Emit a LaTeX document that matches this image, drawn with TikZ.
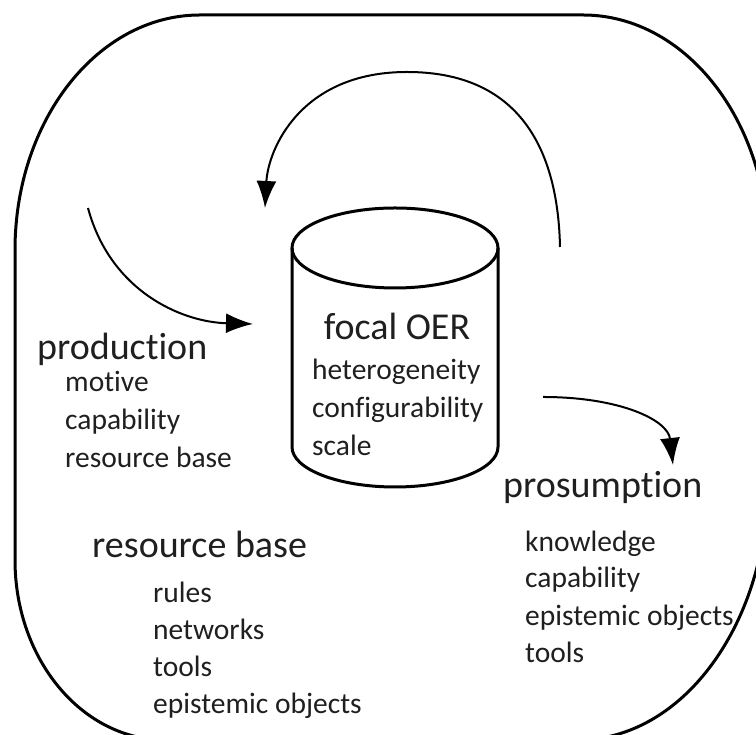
\documentclass[tikz,border=0pt]{standalone}
\usepackage{fontspec}
\setmainfont{Carlito}[Ligatures={NoCommon,NoContextual}]
\usetikzlibrary{arrows.meta}

\begin{document}
\begin{tikzpicture}[x=1pt,y=1pt,
                    head/.style={anchor=base west,inner sep=0pt,text=black!88,
                                 font=\fontsize{38}{38}\selectfont},
                    item/.style={anchor=base west,inner sep=0pt,text=black!88,
                                 font=\fontsize{29.5}{29.5}\selectfont},
                    frame/.style={line width=3pt},
                    flow/.style={line width=2pt,-{Latex[length=27pt,width=20pt]}}]
                \path[use as bounding box,clip] (0,0) rectangle (756,735);
                % outer frame
                \draw[frame] (200,720) -- (583,720)
                    arc[start angle=90,end angle=0,x radius=185,y radius=235]
                    -- (768,255)
                    arc[start angle=0,end angle=-90,x radius=190,y radius=260]
                    -- (165,-5)
                    arc[start angle=270,end angle=180,x radius=150,y radius=180]
                    -- (15,485)
                    arc[start angle=180,end angle=90,x radius=185,y radius=235];
                % the focal OER store
                \coordinate (oer) at (395,487);
                \draw[frame] (oer) ellipse[x radius=103,y radius=40];
                \draw[frame] (292,487) -- (292,288)
                    arc[start angle=180,end angle=360,x radius=103,y radius=40]
                    -- (498,487);
                \node[head,anchor=base] (focal) at (397,395) {focal OER};
                \node[item] (hetero) at (312,355) {heterogeneity};
                \node[item] (config) at (312,317) {configurability};
                \node[item] (scale) at (312,279) {scale};
                % production
                \node[head] (prod) at (37,375) {production};
                \node[item] (motive) at (65,343) {motive};
                \node[item] (capa) at (65,305) {capability};
                \node[item] (resb) at (65,267) {resource base};
                % resource base
                \node[head] (rbase) at (92,177) {resource base};
                \node[item] (rules) at (153,132) {rules};
                \node[item] (netw) at (153,95) {networks};
                \node[item] (tools) at (153,58) {tools};
                \node[item] (epist) at (153,21) {epistemic objects};
                % prosumption
                \node[head] (prosum) at (503,237) {prosumption};
                \node[item] (know) at (525,183) {knowledge};
                \node[item] (pcapa) at (525,147) {capability};
                \node[item] (pepist) at (525,109) {epistemic objects};
                \node[item] (ptools) at (525,72) {tools};
                % flows
                \coordinate (loopstart) at (560,488);
                \coordinate (looptop) at (407,663);
                \coordinate (loopend) at (265,527);
                \coordinate (prodstart) at (88,527);
                \coordinate (prodend) at (253,411);
                \coordinate (prosstart) at (543,338);
                \coordinate (prosend) at (673,270);
                \draw[line width=2pt] (loopstart) .. controls (558,585) and (520,663) .. (looptop);
                \draw[flow] (looptop) .. controls (300,663) and (268,585) .. (loopend);
                \draw[flow] (prodstart) .. controls (110,445) and (180,413) .. (prodend);
                \draw[flow] (prosstart) .. controls (620,338) and (668,315) .. (prosend);
                \end{tikzpicture}
\end{document}
